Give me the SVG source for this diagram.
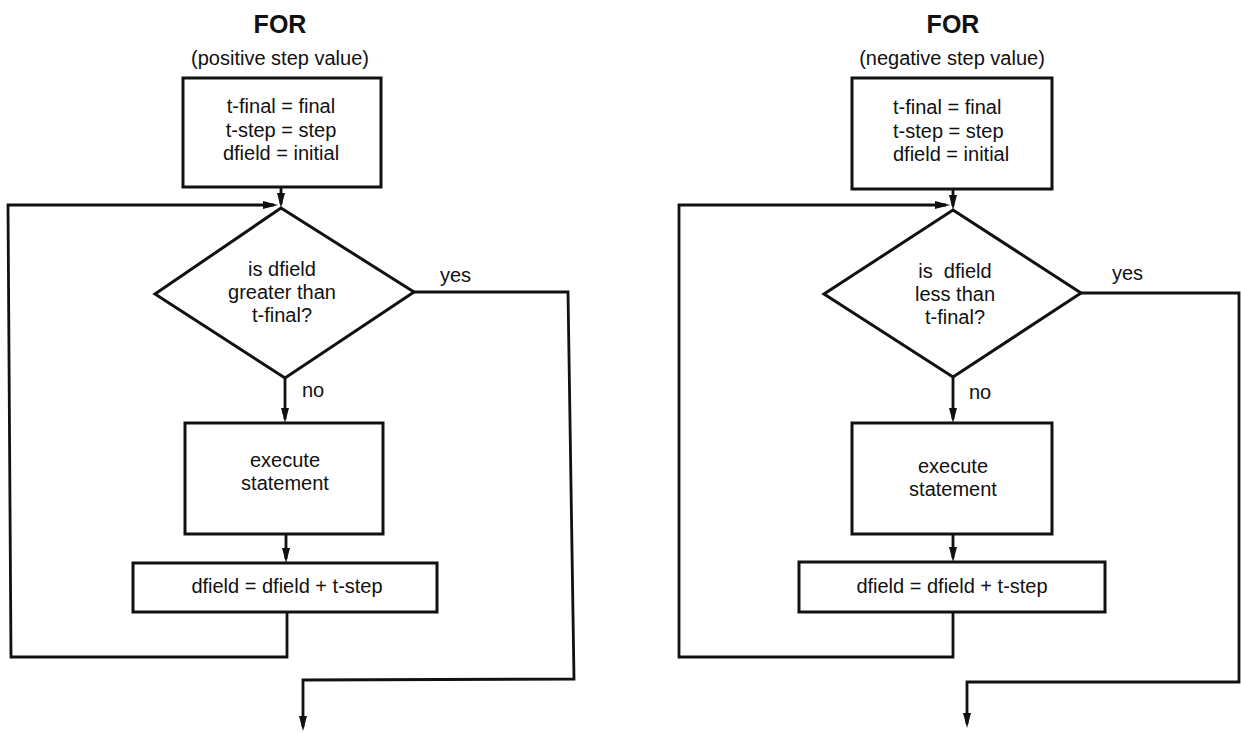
<svg xmlns="http://www.w3.org/2000/svg" width="1241" height="733" viewBox="0 0 1241 733">
  <defs>
    <style>
      .box { fill: #fff; stroke: #111; stroke-width: 3; stroke-linejoin: miter; }
      .wire { fill: none; stroke: #111; stroke-width: 2.8; stroke-linejoin: miter; }
      .t { font-family: "Liberation Sans", Arial, sans-serif; font-size: 20px; fill: #111; }
      .mid { text-anchor: middle; }
      .title { font-family: "Liberation Sans", Arial, sans-serif; font-size: 25px; font-weight: bold; fill: #111; text-anchor: middle; }
    </style>
    <marker id="arrow" markerUnits="userSpaceOnUse" markerWidth="16" markerHeight="9" refX="11" refY="4.5" orient="auto">
      <path d="M0,0.5 L15,4.5 L0,8.5 Z" fill="#111"/>
    </marker>
  </defs>
  <rect width="1241" height="733" fill="#fff"/>

  <!-- ===== FOR loop, positive step ===== -->
  <g id="left-heading">
    <text class="title" x="280" y="33">FOR</text>
    <text class="t mid" x="280" y="65">(positive step value)</text>
  </g>
  <g id="left-init">
    <rect class="box" x="183" y="78" width="198" height="109"/>
    <text class="t mid" x="281" y="113">t-final = final</text>
    <text class="t mid" x="281" y="137">t-step = step</text>
    <text class="t mid" x="281" y="160">dfield = initial</text>
  </g>
  <g id="left-test">
    <polygon class="box" points="281,208 414,292 285,378 155,294"/>
    <text class="t mid" x="282" y="276">is dfield</text>
    <text class="t mid" x="282" y="299">greater than</text>
    <text class="t mid" x="282" y="322">t-final?</text>
  </g>
  <g id="left-exec">
    <rect class="box" x="185" y="423" width="198" height="111"/>
    <text class="t mid" x="285" y="467">execute</text>
    <text class="t mid" x="285" y="490">statement</text>
  </g>
  <g id="left-incr">
    <rect class="box" x="133" y="563" width="304" height="49"/>
    <text class="t mid" x="287" y="593">dfield = dfield + t-step</text>
  </g>

  <!-- ===== FOR loop, negative step ===== -->
  <g id="right-heading">
    <text class="title" x="953" y="33">FOR</text>
    <text class="t mid" x="952" y="65">(negative step value)</text>
  </g>
  <g id="right-init">
    <rect class="box" x="852" y="78" width="200" height="111"/>
    <text class="t" x="893" y="114">t-final = final</text>
    <text class="t" x="893" y="138">t-step = step</text>
    <text class="t" x="893" y="161">dfield = initial</text>
  </g>
  <g id="right-test">
    <polygon class="box" points="953,210 1081,293 953,377 824,294"/>
    <text class="t mid" x="955" y="278" xml:space="preserve">is  dfield</text>
    <text class="t mid" x="955" y="301">less than</text>
    <text class="t mid" x="955" y="324">t-final?</text>
  </g>
  <g id="right-exec">
    <rect class="box" x="852" y="423" width="200" height="111"/>
    <text class="t mid" x="953" y="473">execute</text>
    <text class="t mid" x="953" y="496">statement</text>
  </g>
  <g id="right-incr">
    <rect class="box" x="799" y="562" width="306" height="50"/>
    <text class="t mid" x="952" y="593">dfield = dfield + t-step</text>
  </g>

  <!-- ===== flow lines ===== -->
  <g id="connectors">
    <!-- positive step -->
    <line class="wire" x1="281" y1="187" x2="281" y2="204" marker-end="url(#arrow)"/>
    <polyline class="wire" points="287,612 287,657 11,657 8,205 274,205" marker-end="url(#arrow)"/>
    <line class="wire" x1="285" y1="378" x2="285" y2="419" marker-end="url(#arrow)"/>
    <line class="wire" x1="286" y1="534" x2="286" y2="559" marker-end="url(#arrow)"/>
    <polyline class="wire" points="414,292 568,292 574,679 303,680 303,727" marker-end="url(#arrow)"/>
    <text class="t" x="302" y="397">no</text>
    <text class="t" x="440" y="282">yes</text>

    <!-- negative step -->
    <line class="wire" x1="953" y1="189" x2="953" y2="206" marker-end="url(#arrow)"/>
    <polyline class="wire" points="953,612 953,657 679,657 679,205 946,205" marker-end="url(#arrow)"/>
    <line class="wire" x1="953" y1="377" x2="953" y2="419" marker-end="url(#arrow)"/>
    <line class="wire" x1="953" y1="534" x2="953" y2="558" marker-end="url(#arrow)"/>
    <polyline class="wire" points="1081,293 1239,293 1239,682 967,682 967,724" marker-end="url(#arrow)"/>
    <text class="t" x="969" y="399">no</text>
    <text class="t" x="1112" y="280">yes</text>
  </g>
</svg>
